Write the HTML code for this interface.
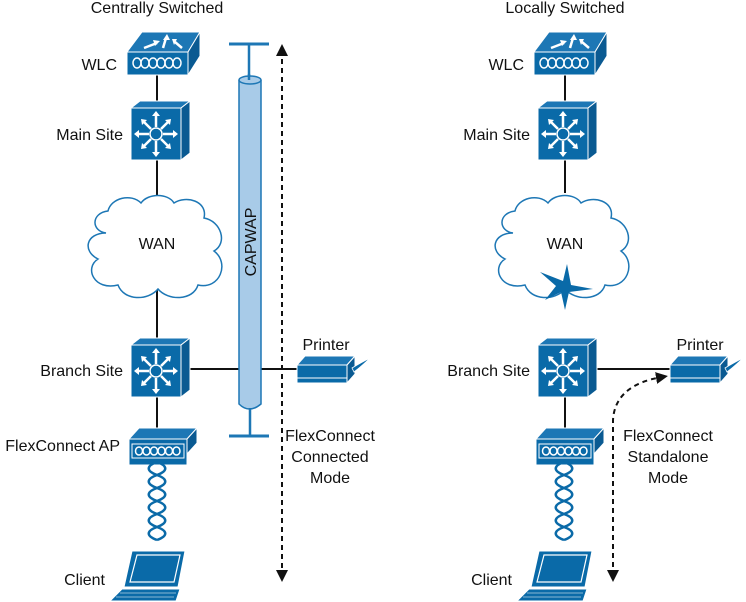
<!DOCTYPE html>
<html><head><meta charset="utf-8"><style>
html,body{margin:0;padding:0;background:#fff;}
svg{display:block;}
text{font-family:"Liberation Sans",Arial,sans-serif;fill:#111;font-size:16px;}
</style></head><body>
<svg width="746" height="602" viewBox="0 0 746 602" xmlns="http://www.w3.org/2000/svg">
<defs>
<marker id="ah" viewBox="0 0 10 10" refX="5" refY="5" markerWidth="6" markerHeight="6" orient="auto-start-reverse"><path d="M0,0 L10,5 L0,10 z" fill="#111"/></marker>
<g id="sw">
  <polygon points="0,7 9,0 59,0 50,7" fill="#1d77b5" stroke="#fff" stroke-width="1"/>
  <polygon points="50,7 59,0 59,52 50,59" fill="#0a5a92" stroke="#fff" stroke-width="1"/>
  <rect x="0" y="7" width="50" height="52" fill="#0a6aa8" stroke="#fff" stroke-width="1"/>
  <circle cx="25" cy="33" r="6" fill="#0a6aa8" stroke="#fff" stroke-width="1.5"/>
  <g stroke="#fff" stroke-width="2.5">
    <line x1="25" y1="26" x2="25" y2="13"/><line x1="25" y1="40" x2="25" y2="53"/>
    <line x1="18" y1="33" x2="5" y2="33"/><line x1="32" y1="33" x2="45" y2="33"/>
    <line x1="20" y1="28" x2="12" y2="20"/><line x1="30" y1="28" x2="38" y2="20"/>
    <line x1="20" y1="38" x2="12" y2="46"/><line x1="30" y1="38" x2="38" y2="46"/>
  </g>
  <g fill="#fff">
    <polygon points="25,10 21,15 29,15"/><polygon points="25,56 21,51 29,51"/>
    <polygon points="3,33 8,29 8,37"/><polygon points="47,33 42,29 42,37"/>
    <polygon points="10,18 16,19 11,24"/><polygon points="40,18 34,19 39,24"/>
    <polygon points="10,48 16,47 11,42"/><polygon points="40,48 34,47 39,42"/>
  </g>
</g>
<g id="wlc">
  <polygon points="0,20 15,0 73,0 61,20" fill="#1d77b5" stroke="#fff" stroke-width="1"/>
  <polygon points="61,20 73,0 73,24 61,43" fill="#0a5a92" stroke="#fff" stroke-width="1"/>
  <rect x="0" y="20" width="61" height="23" fill="#0a6aa8" stroke="#fff" stroke-width="1"/>
  <g fill="none" stroke="#fff" stroke-width="1.5">
    <ellipse cx="10" cy="31" rx="4" ry="5"/><ellipse cx="18" cy="31" rx="4" ry="5"/><ellipse cx="26" cy="31" rx="4" ry="5"/><ellipse cx="34" cy="31" rx="4" ry="5"/><ellipse cx="42" cy="31" rx="4" ry="5"/><ellipse cx="50" cy="31" rx="4" ry="5"/>
  </g>
  <g stroke="#fff" stroke-width="2.5"><line x1="17" y1="16" x2="30" y2="11"/><line x1="36" y1="16" x2="39" y2="6"/><line x1="55" y1="16" x2="48" y2="10"/></g>
  <g fill="#fff"><polygon points="33,9 26,8 28,14"/><polygon points="40,2 36,8 43,8"/><polygon points="45,7 50,7 47,13"/></g>
</g>
<g id="ap">
  <polygon points="0,11 10,0 68,0 58,11" fill="#1d77b5" stroke="#fff" stroke-width="1"/>
  <polygon points="58,11 68,0 68,15 58,26" fill="#0a5a92" stroke="#fff" stroke-width="1"/>
  <rect x="0" y="11" width="58" height="26" fill="#0a6aa8" stroke="#fff" stroke-width="1"/>
  <rect x="3" y="16" width="52" height="14" fill="none" stroke="#fff" stroke-width="1"/>
  <g fill="none" stroke="#fff" stroke-width="1.5">
    <ellipse cx="10" cy="23" rx="3.5" ry="4"/><ellipse cx="17.5" cy="23" rx="3.5" ry="4"/><ellipse cx="25" cy="23" rx="3.5" ry="4"/><ellipse cx="32.5" cy="23" rx="3.5" ry="4"/><ellipse cx="40" cy="23" rx="3.5" ry="4"/><ellipse cx="47.5" cy="23" rx="3.5" ry="4"/>
  </g>
</g>
<g id="printer">
  <polygon points="0,9 8,0 58,0 50,9" fill="#1d77b5" stroke="#fff" stroke-width="1"/>
  <polygon points="50,9 58,0 58,18 50,27" fill="#0a5a92" stroke="#fff" stroke-width="1"/>
  <rect x="0" y="9" width="50" height="18" fill="#0a6aa8" stroke="#fff" stroke-width="1"/>
  <line x1="0" y1="22" x2="50" y2="22" stroke="#fff" stroke-width="1"/>
  <path d="M55,12 Q65,6 73,2 Q66,9 57,16 z" fill="#0a6aa8" stroke="#fff" stroke-width="0.8"/>
</g>
<g id="helix" fill="none" stroke="#0a6aa8" stroke-width="2.5">
  <path d="M9,0 C20,4 20,9 9,13 C-2,17 -2,22 9,26 C20,30 20,35 9,39 C-2,43 -2,48 9,52 C20,56 20,61 9,65 C-2,69 -2,74 9,78"/>
  <path d="M9,0 C-2,4 -2,9 9,13 C20,17 20,22 9,26 C-2,30 -2,35 9,39 C20,43 20,48 9,52 C-2,56 -2,61 9,65 C20,69 20,74 9,78"/>
</g>
<g id="laptop">
  <polygon points="22,0 75,0 68,36 14,36" fill="#0a6aa8" stroke="#fff" stroke-width="1"/>
  <polygon points="27,4 70,4 64,31 20,31" fill="none" stroke="#fff" stroke-width="1.2"/>
  <polygon points="12,38 70,38 66,50 0,50" fill="#0a6aa8" stroke="#fff" stroke-width="1"/>
  <g stroke="#fff" stroke-width="0.6"><line x1="10" y1="42" x2="66" y2="42"/><line x1="6" y1="46" x2="64" y2="46"/></g>
</g>
<g id="cloud">
  <path d="M20,40 C5,38 5,20 22,18 C25,5 45,0 55,10 C62,0 82,0 88,10 C100,2 122,8 118,25 C135,28 142,50 128,58 C144,70 134,97 112,92 C107,108 82,108 72,96 C62,108 38,108 32,92 C8,98 -2,75 12,66 C-4,58 0,40 20,40 z" fill="#fff" stroke="#1d77b5" stroke-width="1.5"/>
</g>
</defs>

<!-- LEFT -->
<text x="157" y="13" text-anchor="middle">Centrally Switched</text>
<line x1="157" y1="75" x2="157" y2="338" stroke="#111" stroke-width="2"/>
<line x1="157" y1="397" x2="157" y2="430" stroke="#111" stroke-width="2"/>
<line x1="190" y1="369" x2="297" y2="369" stroke="#111" stroke-width="2"/>
<use href="#wlc" x="127" y="32"/>
<text x="117" y="70" text-anchor="end">WLC</text>
<use href="#sw" x="131" y="101"/>
<text x="123" y="140" text-anchor="end">Main Site</text>
<use href="#cloud" x="86" y="193"/>
<text x="157" y="249" text-anchor="middle">WAN</text>
<use href="#sw" x="131" y="338"/>
<text x="123" y="376" text-anchor="end">Branch Site</text>
<use href="#ap" x="129" y="428"/>
<text x="120" y="451" text-anchor="end">FlexConnect AP</text>
<use href="#helix" x="148" y="462"/>
<use href="#laptop" x="110" y="551"/>
<text x="105" y="585" text-anchor="end">Client</text>

<!-- CAPWAP pipe -->
<line x1="229" y1="44" x2="269" y2="44" stroke="#1d77b5" stroke-width="3"/>
<line x1="249" y1="44" x2="249" y2="80" stroke="#1d77b5" stroke-width="2.5"/>
<path d="M239,80 L239,404 Q249,414 261,404 L261,80" fill="#a8cbe8" stroke="#1d77b5" stroke-width="1.5"/>
<ellipse cx="250" cy="80" rx="11" ry="4" fill="#a8cbe8" stroke="#1d77b5" stroke-width="1.5"/>
<line x1="249" y1="80" x2="249" y2="74" stroke="#1d77b5" stroke-width="2.5"/>
<line x1="250" y1="408" x2="250" y2="436" stroke="#1d77b5" stroke-width="2.5"/>
<line x1="229" y1="436" x2="269" y2="436" stroke="#1d77b5" stroke-width="3"/>
<text x="0" y="0" text-anchor="middle" transform="translate(256,242) rotate(-90)">CAPWAP</text>
<line x1="282" y1="50" x2="282" y2="576" stroke="#111" stroke-width="2" stroke-dasharray="5,4" marker-start="url(#ah)" marker-end="url(#ah)"/>
<use href="#printer" x="297" y="356"/>
<text x="326" y="350" text-anchor="middle">Printer</text>
<text x="330" y="441" text-anchor="middle">FlexConnect</text>
<text x="330" y="462" text-anchor="middle">Connected</text>
<text x="330" y="483" text-anchor="middle">Mode</text>

<!-- RIGHT -->
<text x="565" y="13" text-anchor="middle">Locally Switched</text>
<line x1="565" y1="75" x2="565" y2="193" stroke="#111" stroke-width="2"/>
<line x1="565" y1="397" x2="565" y2="430" stroke="#111" stroke-width="2"/>
<line x1="597" y1="369" x2="670" y2="369" stroke="#111" stroke-width="2"/>
<use href="#wlc" x="534" y="32"/>
<text x="524" y="70" text-anchor="end">WLC</text>
<use href="#sw" x="538" y="101"/>
<text x="530" y="140" text-anchor="end">Main Site</text>
<use href="#cloud" x="493" y="193"/>
<text x="565" y="249" text-anchor="middle">WAN</text>
<polygon points="567,264 563,281 540,272 556,286 545,300 561,292 565,310 569,292 593,289 571,285" fill="#0a6aa8"/>
<use href="#sw" x="538" y="338"/>
<text x="530" y="376" text-anchor="end">Branch Site</text>
<use href="#ap" x="536" y="428"/>
<use href="#helix" x="555" y="462"/>
<use href="#laptop" x="517" y="551"/>
<text x="512" y="585" text-anchor="end">Client</text>
<use href="#printer" x="670" y="356"/>
<text x="700" y="350" text-anchor="middle">Printer</text>
<path d="M613,576 L613,420 Q615,385 662,377" fill="none" stroke="#111" stroke-width="2" stroke-dasharray="5,4" marker-start="url(#ah)" marker-end="url(#ah)"/>
<text x="668" y="441" text-anchor="middle">FlexConnect</text>
<text x="668" y="462" text-anchor="middle">Standalone</text>
<text x="668" y="483" text-anchor="middle">Mode</text>
</svg>
</body></html>
